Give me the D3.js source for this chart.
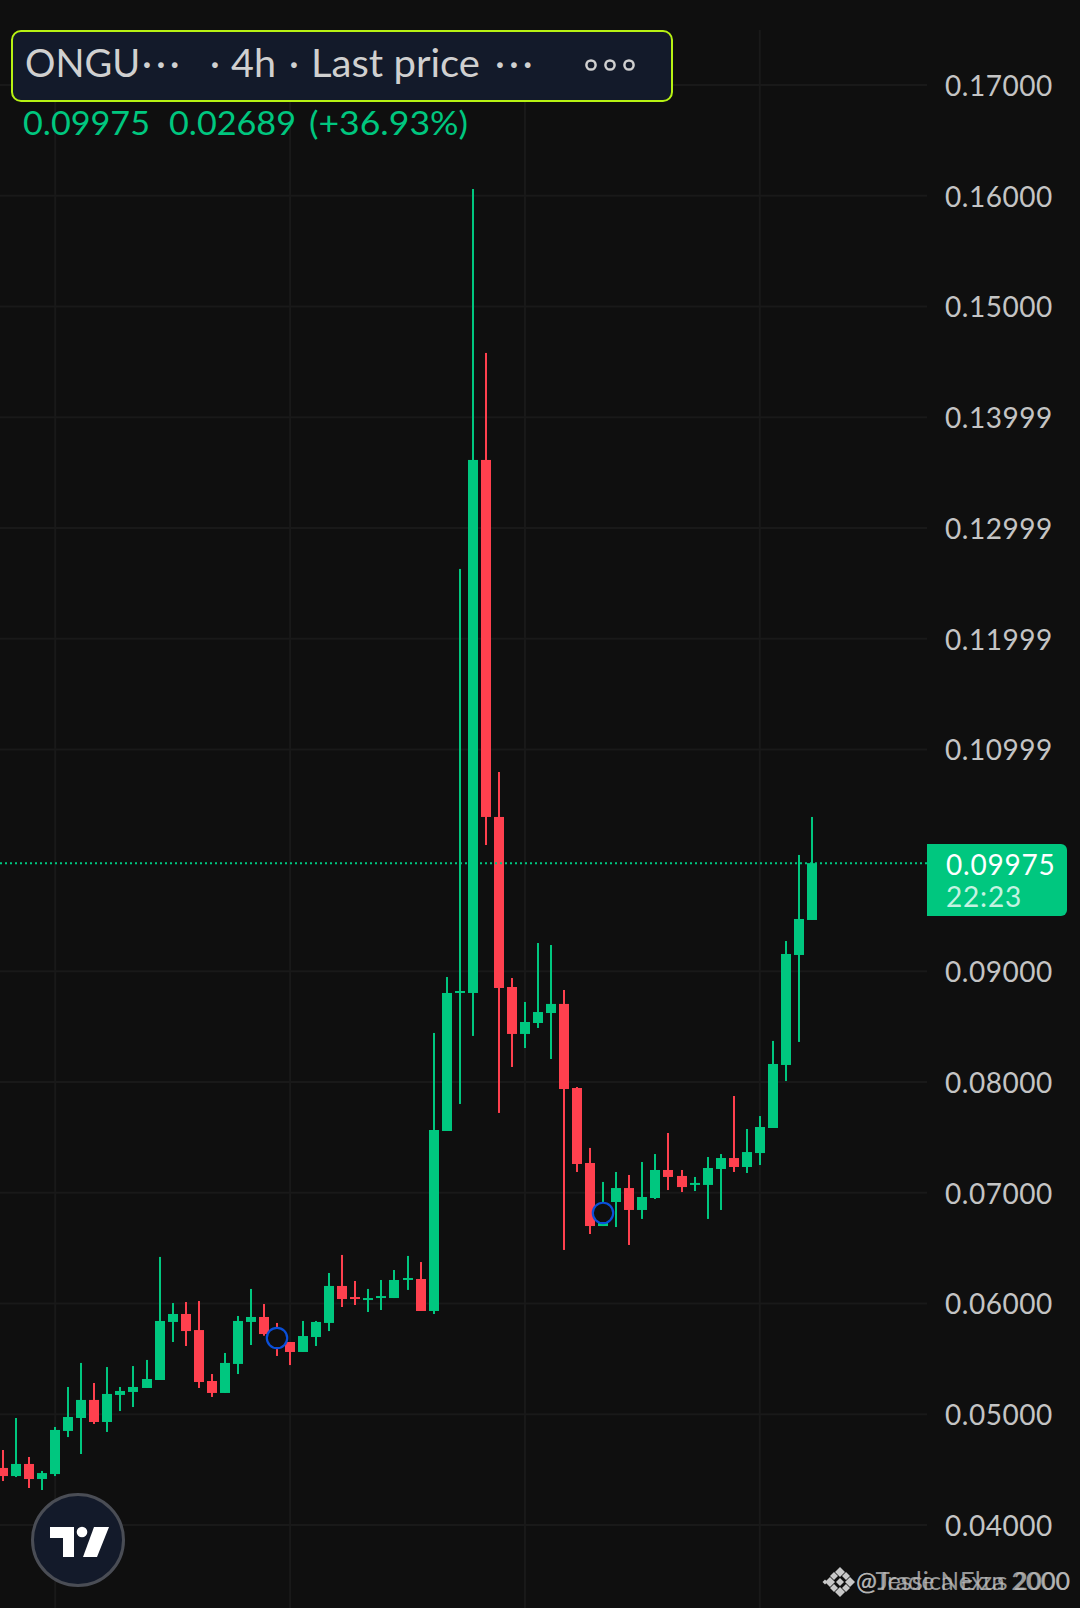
<!DOCTYPE html>
<html><head><meta charset="utf-8">
<script src="https://cdn.jsdelivr.net/npm/d3@7"></script>
<style>html,body{margin:0;padding:0;background:#0f0f0f;overflow:hidden}svg{display:block}</style>
</head><body><svg id="c" width="1080" height="1608"></svg>
<script>
const open=[.04515,.04442,.04551,.04415,.04460,.04849,.04966,.05129,.04930,.05174,.05201,.05237,.05309,.05833,.05905,.05760,.05300,.05192,.05454,.05833,.05878,.05724,.05652,.05562,.05697,.05824,.06158,.06058,.06031,.06049,.06049,.06212,.06221,.05932,.07557,.08803,.08803,.13615,.10392,.08857,.08433,.08532,.08622,.08704,.07945,.07268,.06699,.06916,.07042,.06844,.06952,.07205,.07151,.07070,.07070,.07214,.07313,.07232,.07358,.07584,.08153,.09146,.09462];
const close=[.04442,.04551,.04415,.04469,.04858,.04975,.05129,.04930,.05183,.05210,.05246,.05318,.05842,.05905,.05751,.05291,.05192,.05463,.05842,.05878,.05724,.05652,.05562,.05706,.05833,.06158,.06040,.06040,.06049,.06067,.06212,.06230,.05932,.07566,.08803,.08821,.13615,.10392,.08848,.08433,.08541,.08631,.08704,.07936,.07259,.06699,.06898,.07042,.06844,.06961,.07205,.07142,.07051,.07088,.07223,.07313,.07232,.07367,.07593,.08162,.09155,.09471,.09975];
const high=[.04677,.04966,.04614,.04488,.04885,.05246,.05463,.05282,.05426,.05246,.05435,.05490,.06420,.06004,.06013,.06022,.05363,.05553,.05887,.06131,.05995,.05824,.05652,.05842,.05842,.06275,.06438,.06203,.06131,.06212,.06302,.06429,.06374,.08442,.08947,.12631,.16061,.14581,.10798,.08938,.08722,.09254,.09236,.08830,.07954,.07404,.07097,.07187,.07160,.07277,.07349,.07539,.07205,.07142,.07322,.07349,.07873,.07575,.07692,.08370,.09272,.10049,.10392];
const low=[.04397,.04433,.04334,.04316,.04442,.04794,.04641,.04912,.04840,.05029,.05065,.05237,.05309,.05652,.05616,.05237,.05156,.05192,.05363,.05625,.05709,.05526,.05444,.05562,.05616,.05751,.05968,.05986,.05923,.05941,.06049,.06122,.05932,.05905,.07557,.07801,.08415,.10139,.07720,.08135,.08306,.08487,.08207,.06483,.07187,.06627,.06699,.06690,.06528,.06763,.06943,.07024,.07006,.07015,.06763,.06844,.07187,.07178,.07250,.07584,.08008,.08361,.09462];
const priceTicks=[.17,.16,.15,.14,.13,.12,.11,.09,.08,.07,.06,.05,.04];
const priceLabels=["0.17000","0.16000","0.15000","0.13999","0.12999","0.11999","0.10999","0.09000","0.08000","0.07000","0.06000","0.05000","0.04000"];
const timeTicks=[4,22,40,58];
const markerBars=[21,46];
const markerPrices=[.05688,.06817];
const lastPrice=.09975;
const lastPriceText="0.09975", countdownText="22:23";
const titleParts=[["ONGU",25,0],["···",142,0],["·",210,0],["4h",231,45],["·",289,0],["Last price",311,169],["···",495,0]];
const changeParts=[["0.09975",23,127],["0.02689",169,127],["(+36.93%)",309,159]];
const watermarks=["@Jessica Elza 2000","@Trade Nexus 2000"];

const UP="#00c77f",DOWN="#ff404e",BG="#0f0f0f",GRID="#191919",LABEL="#c4c4c4";
const FONT="Lato,sans-serif";
const svg=d3.select("#c");
const x=d3.scaleLinear().domain([0,62]).range([3,812]);
const y=d3.scaleLinear().domain([.04,.17]).range([1525,85]);
svg.append("rect").attr("width",1080).attr("height",1608).attr("fill",BG);

svg.append("g").selectAll("line").data(timeTicks).join("line")
 .attr("x1",d=>x(d)).attr("x2",d=>x(d)).attr("y1",30).attr("y2",1608)
 .attr("stroke",GRID).attr("stroke-width",2);
svg.append("g").selectAll("line").data(priceTicks).join("line")
 .attr("x1",0).attr("x2",927).attr("y1",d=>y(d)).attr("y2",d=>y(d))
 .attr("stroke",GRID).attr("stroke-width",2);

const axis=d3.axisRight(y).tickValues(priceTicks).tickSize(0).tickPadding(0)
 .tickFormat((d,i)=>priceLabels[i]);
const ga=svg.append("g").attr("transform","translate(945,0)").call(axis);
ga.select(".domain").remove();
ga.selectAll("text").attr("fill",LABEL).attr("font-family",FONT).attr("font-size",28).attr("letter-spacing",.55).attr("dy","0.37em");

const idx=d3.range(open.length);
const col=i=>close[i]>=open[i]?UP:DOWN;
const g=svg.append("g");
g.selectAll("rect.w").data(idx).join("rect").attr("class","w")
 .attr("x",i=>Math.round(x(i))-1).attr("width",2)
 .attr("y",i=>y(high[i])).attr("height",i=>y(low[i])-y(high[i])).attr("fill",col);
g.selectAll("rect.b").data(idx).join("rect").attr("class","b")
 .attr("x",i=>Math.round(x(i))-5).attr("width",10)
 .attr("y",i=>y(Math.max(open[i],close[i])))
 .attr("height",i=>Math.max(2,Math.abs(y(open[i])-y(close[i])))).attr("fill",col);

svg.append("g").selectAll("circle").data(markerBars).join("circle")
 .attr("cx",d=>Math.round(x(d))).attr("cy",(d,i)=>y(markerPrices[i])).attr("r",10.2)
 .attr("fill",BG).attr("stroke","#0a4fd8").attr("stroke-width",2.2);

svg.append("line").attr("x1",0).attr("x2",927).attr("y1",y(lastPrice)).attr("y2",y(lastPrice))
 .attr("stroke",UP).attr("stroke-width",2).attr("stroke-dasharray","2 3");
svg.append("path").attr("fill",UP).attr("d","M927,844H1061a6,6 0 0 1 6,6V910a6,6 0 0 1 -6,6H927Z");
svg.append("text").attr("x",946).attr("y",875).attr("fill","#fff").attr("font-family",FONT).attr("font-size",28).attr("letter-spacing",.8).text(lastPriceText);
svg.append("text").attr("x",946).attr("y",907).attr("fill","#c4f3e1").attr("font-family",FONT).attr("font-size",28).attr("letter-spacing",.8).text(countdownText);

svg.append("rect").attr("x",12).attr("y",31).attr("width",660).attr("height",70).attr("rx",9)
 .attr("fill","#131a2a").attr("stroke","#b7f213").attr("stroke-width",2);
svg.append("g").selectAll("text").data(titleParts).join("text")
 .attr("x",d=>d[1]).attr("y",77).attr("fill","#d0d0d0").attr("font-family",FONT).attr("font-size",38)
 .attr("letter-spacing",d=>d[0]==="···"?4:0)
 .each(function(d){ if(d[2]) d3.select(this).attr("textLength",d[2]).attr("lengthAdjust","spacingAndGlyphs"); })
 .text(d=>d[0]);
svg.append("g").selectAll("circle").data([591,610,629]).join("circle")
 .attr("cx",d=>d).attr("cy",65).attr("r",4.6).attr("fill","none").attr("stroke","#d0d0d0").attr("stroke-width",2.5);
svg.append("g").selectAll("text").data(changeParts).join("text")
 .attr("x",d=>d[1]).attr("y",135).attr("fill",UP).attr("font-family",FONT).attr("font-size",33)
 .attr("textLength",d=>d[2]).attr("lengthAdjust","spacingAndGlyphs").text(d=>d[0]);

const lg=svg.append("g").attr("transform","translate(78,1540)");
lg.append("circle").attr("r",45.5).attr("fill","#131a2a").attr("stroke","#4a4d55").attr("stroke-width",3);
lg.append("path").attr("fill","#fff").attr("d","M-28,-13H-4V17H-15V-2H-28Z");
lg.append("circle").attr("cx",4).attr("cy",-8).attr("r",5.3).attr("fill","#fff");
lg.append("path").attr("fill","#fff").attr("d","M16,-13H31L19,17H5Z");

const wm=svg.append("g").attr("transform","translate(840,1582)").attr("fill","#c8c8c8");
[[0,-10,5],[-10,0,5],[10,0,5],[0,10,5],[-6,-6,4],[6,-6,4],[-6,6,4],[6,6,4],[0,0,4],[-15,0,2.5]].forEach(d=>{
  wm.append("path").attr("d",`M${d[0]},${d[1]-d[2]}L${d[0]+d[2]},${d[1]}L${d[0]},${d[1]+d[2]}L${d[0]-d[2]},${d[1]}Z`);
});
svg.append("g").selectAll("text").data(watermarks).join("text")
 .attr("x",856).attr("y",1590).attr("fill","#bdbdbd").attr("fill-opacity",.8)
 .attr("font-family",FONT).attr("font-size",25).attr("textLength",214).attr("lengthAdjust","spacingAndGlyphs")
 .text(d=>d);
</script></body></html>
